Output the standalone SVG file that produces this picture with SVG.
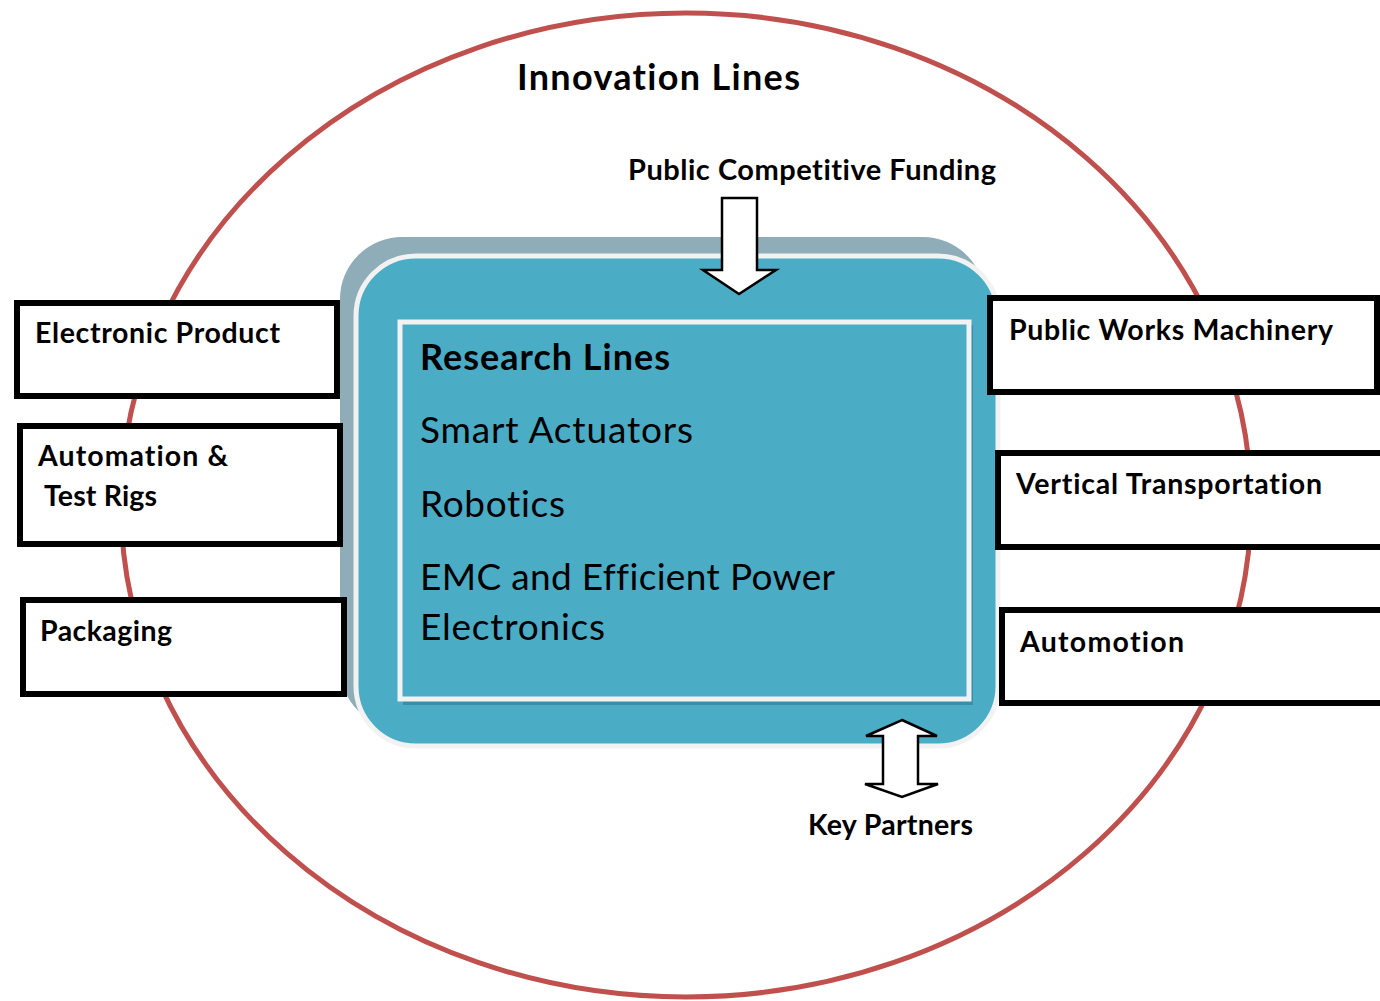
<svg xmlns="http://www.w3.org/2000/svg" width="1380" height="1001" viewBox="0 0 1380 1001">
<style>
text{font-variant-ligatures:none}
.box{fill:#fff;stroke:#000;stroke-width:6}
.lbl{font-family:Lato,"Open Sans",sans-serif;font-weight:bold;font-size:28.5px;fill:#000}
.big{font-family:Lato,"Open Sans",sans-serif;font-size:37px;fill:#000}
.arrow{fill:#fff;stroke:#000;stroke-width:2.5;stroke-linejoin:miter}
</style>
<rect width="1380" height="1001" fill="#fff"/>
<g id="innovation">
<ellipse cx="686" cy="505" rx="565" ry="492" fill="none" stroke="#c0504d" stroke-width="5"/>
<text x="517" y="90" class="lbl" style="font-size:36px" textLength="283" lengthAdjust="spacing">Innovation Lines</text>
</g>
<g id="research">
<rect x="340" y="237" width="645" height="492" rx="62" fill="#8fadb8"/>
<rect x="356" y="256" width="642" height="490" rx="60" fill="#4bacc6" stroke="#f2f2f2" stroke-width="5"/>
<rect x="403" y="325" width="570" height="380" fill="#3a8ea6"/>
<rect x="400" y="322" width="569" height="377" fill="#4bacc6" stroke="#f2f2f2" stroke-width="5"/>
<text x="420" y="370" class="big" style="font-weight:bold;font-size:36px" textLength="250" lengthAdjust="spacing">Research Lines</text>
<text x="420" y="443" class="big" textLength="273" lengthAdjust="spacing">Smart Actuators</text>
<text x="420" y="517" class="big" textLength="145" lengthAdjust="spacing">Robotics</text>
<text x="420" y="590" class="big" textLength="415" lengthAdjust="spacing">EMC and Efficient Power</text>
<text x="420" y="640" class="big" textLength="185" lengthAdjust="spacing">Electronics</text>
</g>
<g id="electronic-product"><rect class="box" x="17" y="303" width="320" height="93"/><text class="lbl" x="35" y="343" textLength="245" lengthAdjust="spacing">Electronic Product</text></g>
<g id="automation-test-rigs"><rect class="box" x="20" y="426" width="320" height="118"/><text class="lbl" x="38" y="466" textLength="190" lengthAdjust="spacing">Automation &amp;</text><text class="lbl" x="44" y="506" textLength="113" lengthAdjust="spacing">Test Rigs</text></g>
<g id="packaging"><rect class="box" x="23" y="600" width="321" height="94"/><text class="lbl" x="40" y="641" textLength="132" lengthAdjust="spacing">Packaging</text></g>
<g id="public-works"><rect class="box" x="990" y="298" width="387" height="94"/><text class="lbl" x="1009" y="340" textLength="324" lengthAdjust="spacing">Public Works Machinery</text></g>
<g id="vertical-transportation"><rect class="box" x="998" y="453" width="400" height="94"/><text class="lbl" x="1016" y="494" textLength="306" lengthAdjust="spacing">Vertical Transportation</text></g>
<g id="automotion"><rect class="box" x="1002" y="610" width="400" height="93"/><text class="lbl" x="1020" y="652" textLength="164" lengthAdjust="spacing">Automotion</text></g>
<g id="connectors">
<polygon class="arrow" points="722,198 757,198 757,270 776,270 739,294 703,270 722,270"/>
<polygon class="arrow" points="902,720 937,736 918,736 918,784 938,784 902,797 865,784 883,784 883,736 866,736"/>
</g>
<g id="funding"><text class="lbl" x="628" y="180" style="font-size:29px" textLength="368" lengthAdjust="spacing">Public Competitive Funding</text></g>
<g id="partners"><text class="lbl" x="808" y="835" textLength="165" lengthAdjust="spacing">Key Partners</text></g>
</svg>
